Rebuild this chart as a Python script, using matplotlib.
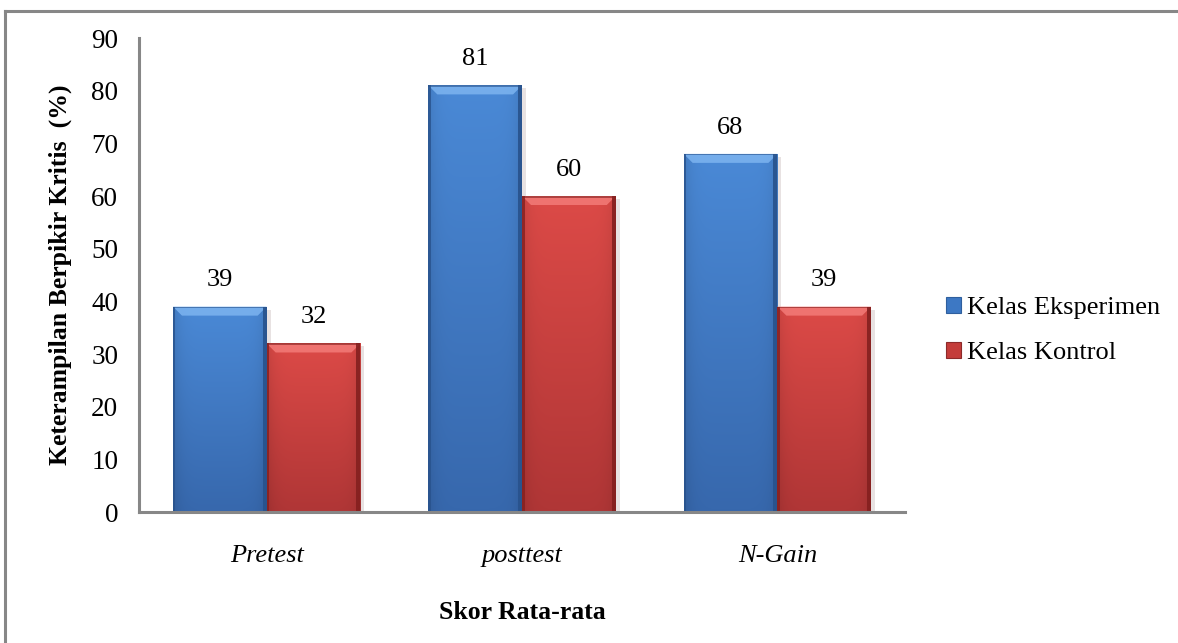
import numpy as np
import matplotlib
matplotlib.use('Agg')
import matplotlib.pyplot as plt
from matplotlib.patches import Patch, Polygon, Rectangle
from matplotlib.lines import Line2D

categories = ['Pretest', 'posttest', 'N-Gain']
eksperimen = [39, 81, 68]
kontrol = [32, 60, 39]
series_names = ['Kelas Eksperimen', 'Kelas Kontrol']

plt.rcParams['font.family'] = ['Liberation Serif', 'DejaVu Serif']

# colour sets: top, bottom, bevel, edge
BLUE = dict(top='#4a89d6', bottom='#3768ad', bevel='#7db4f0', edge='#28528c')
RED = dict(top='#dc4a47', bottom='#b03636', bevel='#f37b78', edge='#84201f')

fig = plt.figure(figsize=(11.78, 6.43), dpi=100)
ax = fig.add_axes([0.118, 0.2037, 0.6503, 0.7372])

x = np.arange(len(categories))
w = 0.367
bars_e = ax.bar(x - w / 2, eksperimen, w, color=BLUE['top'], linewidth=0, zorder=2)
bars_k = ax.bar(x + w / 2, kontrol, w, color=RED['top'], linewidth=0, zorder=2)

ax.set_xlim(-0.5, 2.5)
ax.set_ylim(0, 90)
ax.set_yticks(range(0, 91, 10))
ax.set_xticks(x)
ax.set_xticklabels(categories, fontstyle='italic', fontsize=19)
ax.tick_params(axis='y', length=0, labelsize=19.5, pad=15)
ax.tick_params(axis='x', length=0, pad=24)

for s in ['top', 'right']:
    ax.spines[s].set_visible(False)
for s in ['left', 'bottom']:
    ax.spines[s].set_color('#878787')
    ax.spines[s].set_linewidth(2.2)
    ax.spines[s].set_zorder(5)

ax.set_ylabel('Keterampilan Berpikir Kritis  (%)', fontsize=18.5, fontweight='bold', labelpad=14)
ax.set_xlabel('Skor Rata-rata', fontsize=18.5, fontweight='bold', labelpad=24)

# pixel sizes in data units
px_x = 3.0 / (0.6503 * 1178)
px_y = 90.0 / (0.7372 * 643)


def shade(bars, cols):
    top = np.array(matplotlib.colors.to_rgb(cols['top']))
    bot = np.array(matplotlib.colors.to_rgb(cols['bottom']))
    for b in bars:
        x0, y0 = b.get_x(), b.get_y()
        bw, bh = b.get_width(), b.get_height()
        t = np.linspace(0, 1, 64)[:, None, None]
        grad = top * (1 - t) + bot * t
        hx = np.linspace(-1, 1, 48)
        dark = 1 - 0.10 * hx[None, :, None] ** 6
        img = np.clip(grad * dark, 0, 1)
        im = ax.imshow(img, extent=[x0, x0 + bw, y0, y0 + bh], origin='upper',
                       aspect='auto', zorder=2.1, interpolation='bilinear')
        im.set_clip_path(b)
        # top bevel
        bv = 9 * px_y
        dx = 9 * px_x
        ax.add_patch(Polygon([[x0, y0 + bh], [x0 + bw, y0 + bh],
                              [x0 + bw - dx, y0 + bh - bv], [x0 + dx, y0 + bh - bv]],
                             closed=True, color=cols['bevel'], alpha=0.85,
                             linewidth=0, zorder=2.2))
        # dark side edges
        ax.add_patch(Rectangle((x0, y0), 2.5 * px_x, bh, color=cols['edge'],
                               alpha=0.8, linewidth=0, zorder=2.3))
        ax.add_patch(Rectangle((x0 + bw - 4 * px_x, y0), 4 * px_x, bh,
                               color=cols['edge'], alpha=0.9, linewidth=0, zorder=2.3))
        ax.add_patch(Rectangle((x0, y0 + bh - 1.5 * px_y), bw, 1.5 * px_y,
                               color=cols['edge'], alpha=0.6, linewidth=0, zorder=2.3))
        # soft shadow on the right
        ax.add_patch(Rectangle((x0 + bw, y0), 4 * px_x, bh - 3 * px_y,
                               color='#d9cfcf', alpha=0.6, linewidth=0, zorder=1.5))


shade(bars_e, BLUE)
shade(bars_k, RED)

for bars, vals in [(bars_e, eksperimen), (bars_k, kontrol)]:
    for b, v in zip(bars, vals):
        ax.annotate(f'{v}', (b.get_x() + b.get_width() / 2, v),
                    xytext=(0, 11), textcoords='offset points',
                    ha='center', va='bottom', fontsize=19)

handles = [Patch(facecolor='#3d78c4', edgecolor='#2f5f9e', linewidth=0.8),
           Patch(facecolor='#c43c3a', edgecolor='#8c2a2a', linewidth=0.8)]
fig.legend(handles, series_names, loc='center left', bbox_to_anchor=(0.783, 0.486),
           frameon=False, fontsize=19, handlelength=0.55, handleheight=0.55,
           handletextpad=0.25, labelspacing=0.88)

# outer frame (top and left sides)
fig.add_artist(Line2D([0.0045, 1.0], [0.9830, 0.9830], color='#878787', linewidth=2.2,
                      transform=fig.transFigure))
fig.add_artist(Line2D([0.0045, 0.0045], [0.0, 0.9830], color='#878787', linewidth=2.2,
                      transform=fig.transFigure))

fig.savefig('out.png', dpi=100)
